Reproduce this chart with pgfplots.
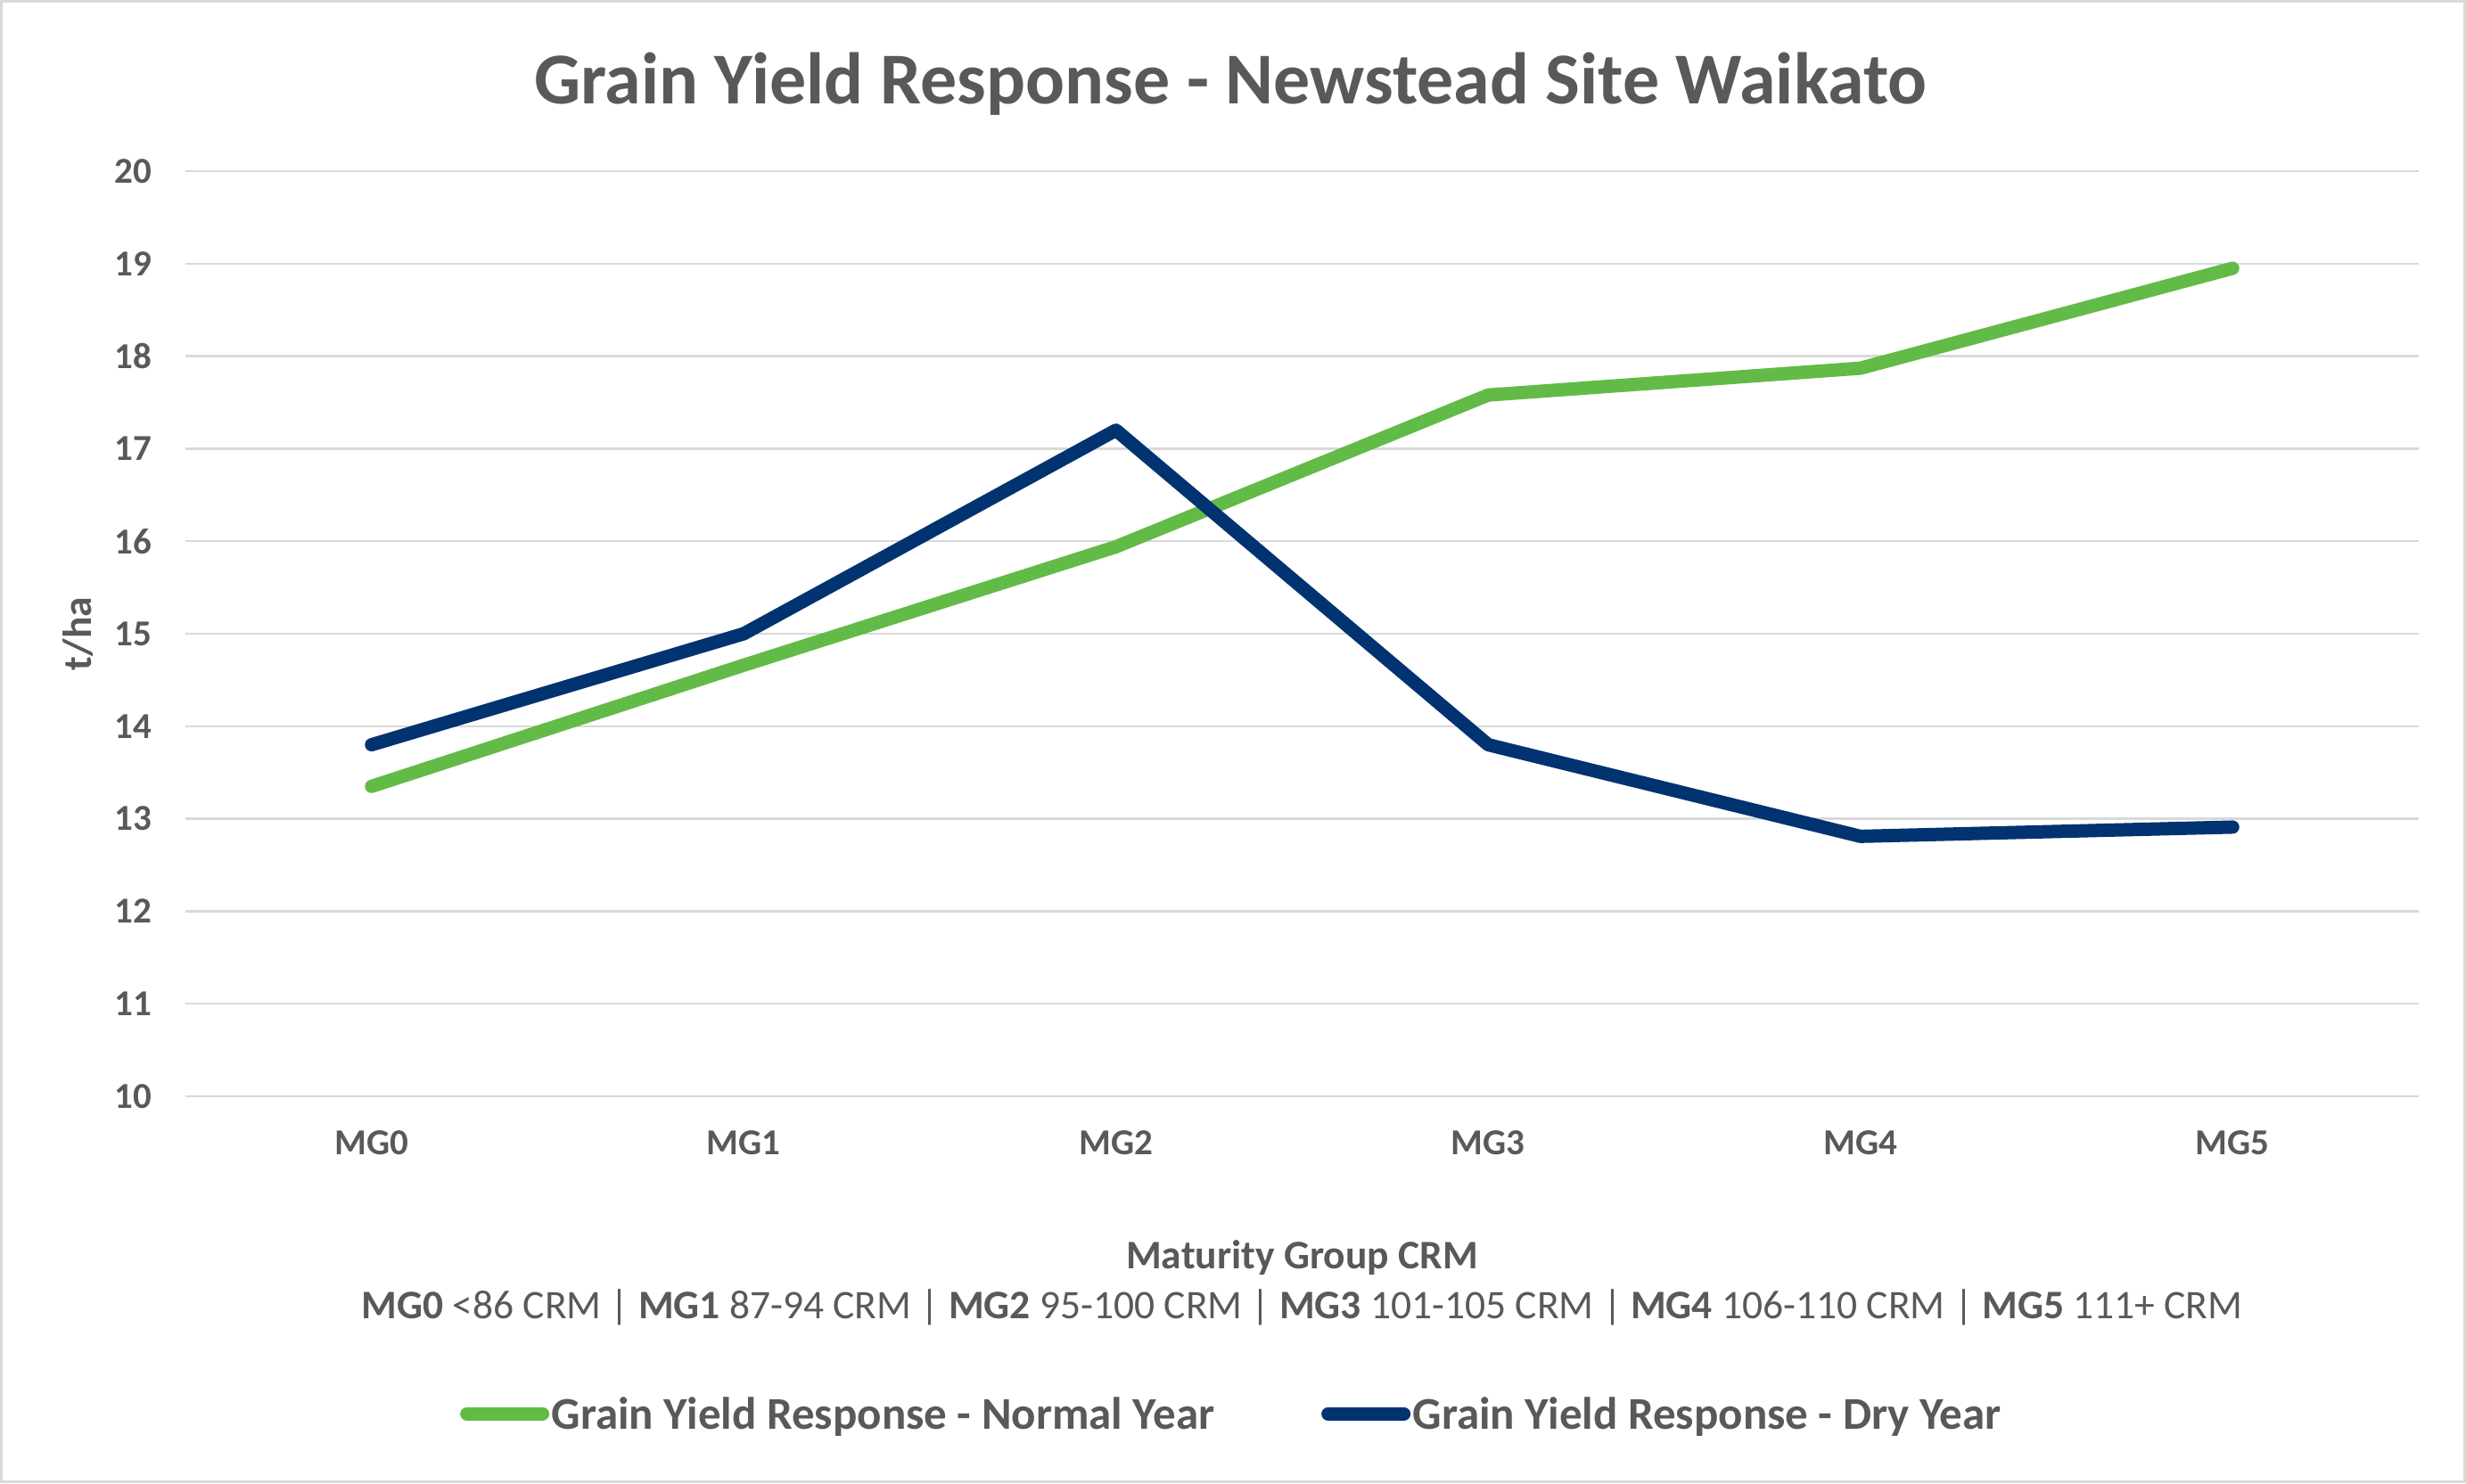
\documentclass[border=0pt]{standalone}
\usepackage{pgfplots}
\pgfplotsset{compat=1.18}
\usepackage{fontspec}
\setmainfont{Carlito}
\definecolor{tgrey}{HTML}{595959}
\definecolor{ggreen}{HTML}{62BB46}
\definecolor{dblue}{HTML}{003370}
\definecolor{gridc}{HTML}{D9D9D9}
\begin{document}
\begin{tikzpicture}
\useasboundingbox (-41.6pt,-86.8pt) rectangle (511.6pt,246pt);
\draw[gridc, line width=0.7pt] (-41.25pt,-86.45pt) rectangle (511.25pt,245.65pt);
\begin{axis}[
  at={(0,0)}, anchor=south west,
  scale only axis, width=501pt, height=207.6pt,
  xmin=-0.5, xmax=5.5, ymin=10, ymax=20,
  xtick={0,...,5}, xticklabels={MG0,MG1,MG2,MG3,MG4,MG5},
  ytick={10,...,20},
  axis line style={draw=none},
  major tick length=0pt,
  ymajorgrids, grid style={gridc, line width=0.5pt},
  clip=false,
  /pgf/number format/assume math mode=true,
  tick label style={font=\fontsize{8.2}{10}\selectfont\bfseries, text=tgrey},
  yticklabel style={anchor=east, inner sep=0pt, xshift=-7.4pt},
  xticklabel style={anchor=base, inner sep=0pt, yshift=-13pt},
  title={Grain Yield Response - Newstead Site Waikato},
  title style={at={(axis description cs:0.468,1)}, anchor=base, yshift=9.1pt, inner sep=0pt,
    font=\fontsize{16.4}{20}\selectfont\bfseries, text=tgrey},
  ylabel={t/ha},
  ylabel style={at={(axis description cs:-0.0479,0.5)}, anchor=center, inner sep=0pt,
    font=\fontsize{9.1}{11}\selectfont\bfseries, text=tgrey},
  xlabel={\textbf{Maturity Group CRM}\\\textbf{MG0} <86 CRM | \textbf{MG1} 87-94 CRM | \textbf{MG2} 95-100 CRM | \textbf{MG3} 101-105 CRM | \textbf{MG4} 106-110 CRM | \textbf{MG5} 111+ CRM},
  xlabel style={at={(axis description cs:0.5,0)}, anchor=north, inner sep=0pt, yshift=-32.2pt,
    align=center, font=\fontsize{9.1}{11.2}\selectfont, text=tgrey},
  legend columns=2,
  legend style={at={(axis description cs:0.468,-0.346)}, anchor=center, draw=none, fill=none,
    font=\fontsize{10.2}{12}\selectfont\bfseries, text=tgrey, inner sep=0pt,
    nodes={inner sep=0pt},
    /tikz/every even column/.append style={column sep=24pt}},
  legend image code/.code={
    \path[draw=none] (0pt,0pt) rectangle (20.5pt,0pt);
    \draw[#1, line width=3pt, line cap=round] (1.5pt,0.6pt) -- (18.5pt,0.6pt);},
]
\addplot[ggreen, line width=3pt, line cap=round, line join=round]
  coordinates {(0,13.35) (1,14.66) (2,15.94) (3,17.58) (4,17.87) (5,18.95)};
\addlegendentry{Grain Yield Response - Normal Year}
\addplot[dblue, line width=3pt, line cap=round, line join=round]
  coordinates {(0,13.8) (1,15.0) (2,17.2) (3,13.8) (4,12.81) (5,12.91)};
\addlegendentry{Grain Yield Response - Dry Year}
\end{axis}
\end{tikzpicture}
\end{document}
